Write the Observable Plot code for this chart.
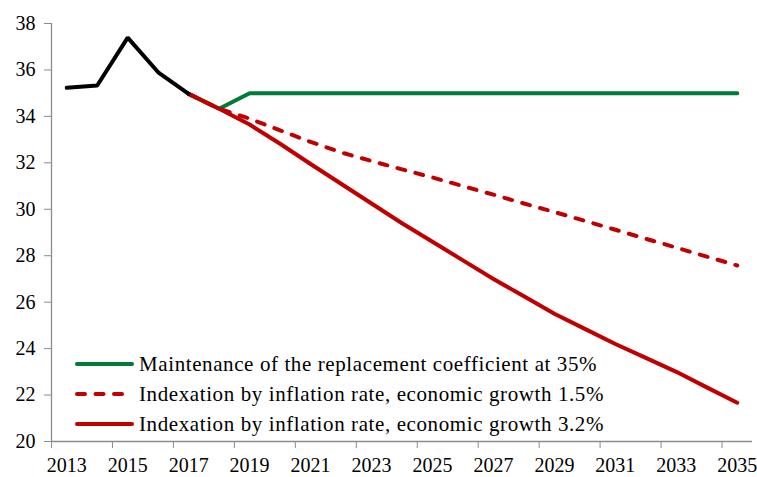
<!DOCTYPE html>
<html>
<head>
<meta charset="utf-8">
<script src="https://cdn.jsdelivr.net/npm/d3@7"></script>
<script src="https://cdn.jsdelivr.net/npm/@observablehq/plot@0.6"></script>
<style>
  html, body { margin: 0; padding: 0; background: #fff; }
  #wrap { position: relative; width: 757px; height: 477px; font-family: 'Liberation Serif', 'Times New Roman', serif; }
  #legend { position: absolute; left: 72px; top: 349px; font-size: 21px; letter-spacing: 0.6px; color: #000; font-family: 'Liberation Serif', 'Times New Roman', serif; }
  .row { display: flex; align-items: center; height: 30px; white-space: nowrap; }
  .row svg { margin-right: 4px; }
</style>
</head>
<body>
<div id="wrap"></div>
<script>
const historyYears = [2013, 2014, 2015, 2016, 2017];
const historyValues = [35.23, 35.33, 37.39, 35.90, 34.97];

const projectionYears = [2017, 2018, 2019, 2020, 2021, 2022, 2023, 2024, 2025, 2026, 2027, 2028, 2029, 2030, 2031, 2032, 2033, 2034, 2035];
const replacement35 = [34.97, 34.33, 35, 35, 35, 35, 35, 35, 35, 35, 35, 35, 35, 35, 35, 35, 35, 35, 35];
const inflationGrowth15 = [34.97, 34.33, 33.90, 33.40, 32.90, 32.45, 32.08, 31.72, 31.37, 31.00, 30.63, 30.25, 29.88, 29.50, 29.12, 28.73, 28.35, 27.96, 27.58];
const inflationGrowth32 = [34.97, 34.33, 33.65, 32.82, 31.95, 31.10, 30.25, 29.40, 28.60, 27.80, 27.00, 26.25, 25.50, 24.85, 24.20, 23.60, 23.00, 22.33, 21.67];

const seriesNames = [
  "Maintenance of the replacement coefficient at 35%",
  "Indexation by inflation rate, economic growth 1.5%",
  "Indexation by inflation rate, economic growth 3.2%"
];
const seriesColors = ["#007A37", "#C00000", "#C00000"];
const seriesDash = [null, "8 10.5", null];

const xLabelYears = [2013, 2015, 2017, 2019, 2021, 2023, 2025, 2027, 2029, 2031, 2033, 2035];
const xTickBounds = [2012.5, 2014.5, 2016.5, 2018.5, 2020.5, 2022.5, 2024.5, 2026.5, 2028.5, 2030.5, 2032.5, 2034.5];
const yTicks = [20, 22, 24, 26, 28, 30, 32, 34, 36, 38];

const hist = historyYears.map((y, i) => ({year: y, value: historyValues[i]}));
const mk = (vals) => projectionYears.map((y, i) => ({year: y, value: vals[i]}));
const green = mk(replacement35);
const dashed = mk(inflationGrowth15);
const solid = mk(inflationGrowth32);

const axisColor = "#8c8c8c";

const chart = Plot.plot({
  width: 757,
  height: 477,
  marginLeft: 51,
  marginRight: 5,
  marginTop: 23,
  marginBottom: 36,
  style: {fontFamily: "'Liberation Serif', 'Times New Roman', serif", fontSize: "20px", color: "#000", background: "#fff", overflow: "visible"},
  x: {domain: [2012.5, 2035.5]},
  y: {domain: [20, 38]},
  marks: [
    Plot.axisY({ticks: yTicks, tickSize: 7, tickPadding: 9, stroke: axisColor, label: null, fill: "#000", fontSize: 20}),
    Plot.axisX({ticks: xTickBounds, tickSize: 7, tickFormat: () => "", stroke: axisColor, label: null}),
    Plot.axisX({ticks: xLabelYears, tickSize: 0, tickPadding: 16, tickFormat: d => String(d), label: null, fill: "#000", fontSize: 20}),
    Plot.ruleX([2012.5], {stroke: axisColor, strokeWidth: 1.3}),
    Plot.ruleY([20], {stroke: axisColor, strokeWidth: 1.3}),
    Plot.line(green, {x: "year", y: "value", stroke: seriesColors[0], strokeWidth: 4, strokeLinejoin: "miter"}),
    Plot.line(solid, {x: "year", y: "value", stroke: seriesColors[2], strokeWidth: 4, strokeLinejoin: "round"}),
    Plot.line(dashed, {x: "year", y: "value", stroke: seriesColors[1], strokeWidth: 4, strokeDasharray: seriesDash[1], strokeLinecap: "round"}),
    Plot.line(hist, {x: "year", y: "value", stroke: "#000", strokeWidth: 4, strokeLinejoin: "miter"})
  ]
});

const wrap = document.getElementById("wrap");
wrap.appendChild(chart);

const legend = document.createElement("div");
legend.id = "legend";
seriesNames.forEach((name, i) => {
  const row = document.createElement("div");
  row.className = "row";
  const dash = seriesDash[i] ? ` stroke-dasharray="${seriesDash[i]}" stroke-linecap="round"` : ` stroke-linecap="round"`;
  row.innerHTML = `<svg width="63" height="10"><line x1="5" y1="5" x2="60" y2="5" stroke="${seriesColors[i]}" stroke-width="4"${dash}/></svg><span>${name}</span>`;
  legend.appendChild(row);
});
wrap.appendChild(legend);
</script>
</body>
</html>
